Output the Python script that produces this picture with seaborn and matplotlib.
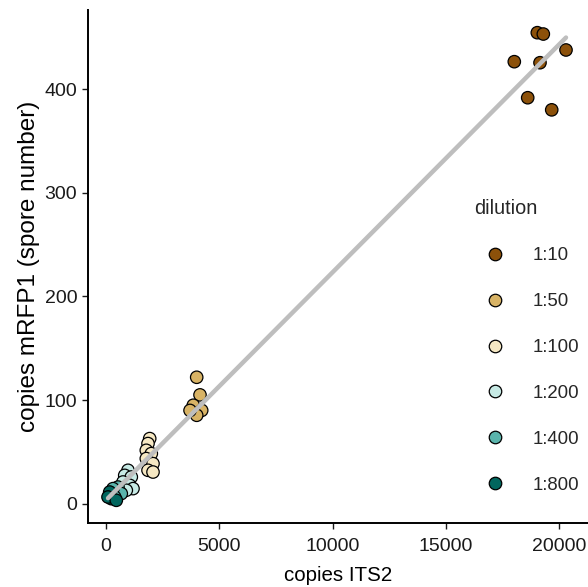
import numpy as np
import pandas as pd
import matplotlib
matplotlib.use("Agg")
import matplotlib.pyplot as plt
import seaborn as sns

# ---- data ----
dilutions = ["1:10", "1:50", "1:100", "1:200", "1:400", "1:800"]
colors = ["#8C510A", "#D8B365", "#F6E8C3", "#C7EAE5", "#5AB4AC", "#01665E"]

its2_1_10 = [19042, 19307, 20309, 18026, 19161, 18618, 19678]
mrfp_1_10 = [454.7, 453.4, 438.0, 426.7, 425.7, 391.9, 380.2]

its2_1_50 = [4004, 4150, 3854, 4225, 4004, 3710]
mrfp_1_50 = [122.0, 105.0, 95.0, 90.0, 85.3, 90.0]

its2_1_100 = [1929, 1854, 1779, 2000, 1779, 2075, 1854, 2075]
mrfp_1_100 = [62.8, 58.0, 51.5, 48.3, 43.5, 38.6, 32.2, 30.5]

its2_1_200 = [971, 826, 1117, 750, 1046, 1192, 896]
mrfp_1_200 = [32.2, 27.3, 25.7, 20.9, 17.7, 14.5, 12.9]

its2_1_400 = [530, 675, 309, 384]
mrfp_1_400 = [16.0, 9.7, 14.5, 6.4]

its2_1_800 = [163, 234, 88, 455]
mrfp_1_800 = [11.2, 4.8, 6.4, 3.2]

x_ticks = [0, 5000, 10000, 15000, 20000]
y_ticks = [0, 100, 200, 300, 400]

groups = [
    ("1:10", its2_1_10, mrfp_1_10),
    ("1:50", its2_1_50, mrfp_1_50),
    ("1:100", its2_1_100, mrfp_1_100),
    ("1:200", its2_1_200, mrfp_1_200),
    ("1:400", its2_1_400, mrfp_1_400),
    ("1:800", its2_1_800, mrfp_1_800),
]
rows = []
for name, xs, ys in groups:
    for xv, yv in zip(xs, ys):
        rows.append({"dilution": name, "its2": xv, "mrfp": yv})
df = pd.DataFrame(rows)

# ---- plotting ----
sns.set_theme(style="ticks")
plt.rcParams["font.family"] = ["Liberation Sans", "DejaVu Sans"]

fig = plt.figure(figsize=(5.88, 5.87), dpi=100)
ax = fig.add_axes([88 / 588, 1 - 523 / 587, 1 - 88 / 588, (523 - 10) / 587])

sns.scatterplot(data=df, x="its2", y="mrfp", hue="dilution", hue_order=dilutions,
                palette=colors, s=80, edgecolor="black", linewidth=0.9, ax=ax,
                zorder=2)
sns.regplot(data=df, x="its2", y="mrfp", scatter=False, ci=None, truncate=True,
            line_kws={"color": "#BEBEBE", "lw": 3.2, "zorder": 3}, ax=ax)

ax.set_xlim(-795, 21280)
ax.set_ylim(-18.7, 476.6)
ax.set_xticks(x_ticks)
ax.set_yticks(y_ticks)
ax.set_xticklabels([str(v) for v in x_ticks])
ax.set_yticklabels([str(v) for v in y_ticks])
ax.tick_params(axis="both", labelsize=14, colors="#1a1a1a", length=4.3, width=1.0)
ax.tick_params(axis="x", pad=6.5)
ax.tick_params(axis="y", pad=3.5)
ax.set_xlabel("copies ITS2", fontsize=14.8, color="black", labelpad=8)
ax.set_ylabel("copies mRFP1 (spore number)", fontsize=17.5, color="black", labelpad=3)
for side in ["top", "right"]:
    ax.spines[side].set_visible(False)
for side in ["left", "bottom"]:
    ax.spines[side].set_linewidth(1.4)
    ax.spines[side].set_color("black")

handles, labels = ax.get_legend_handles_labels()
for h in handles:
    h.set_markersize(9)
    h.set_markeredgecolor("black")
    h.set_markeredgewidth(0.9)
leg = ax.legend(handles, labels, title="dilution", frameon=False,
                loc="upper left", bbox_to_anchor=(474.5 / 588, 1 - 199.5 / 587),
                bbox_transform=fig.transFigure, fontsize=13.4, title_fontsize=14.3,
                labelspacing=1.55, handlelength=2.2, handletextpad=0.93,
                borderpad=0, borderaxespad=0)
leg._legend_box.align = "left"

fig.savefig("out.png", dpi=100)
